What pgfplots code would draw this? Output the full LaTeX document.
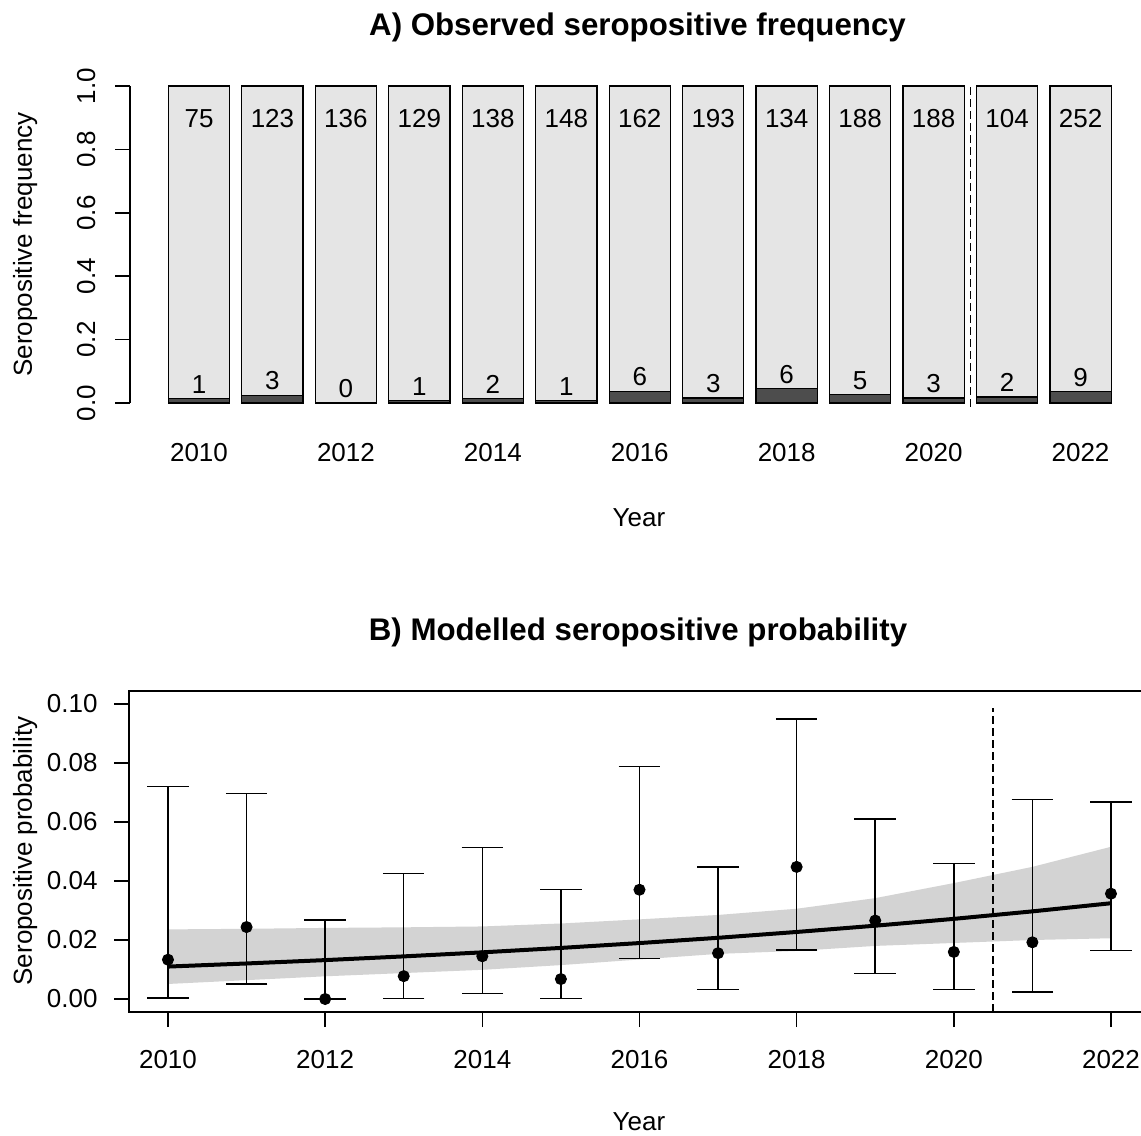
\documentclass[border=0pt]{standalone}
\usepackage{fontspec}
\setmainfont{Liberation Sans}
\usepackage{pgfplots}
\pgfplotsset{compat=1.18}
\usepackage{pgfplotstable}
\usepgfplotslibrary{fillbetween}
\definecolor{lightbar}{RGB}{229,229,229}
\definecolor{darkbar}{RGB}{77,77,77}
\definecolor{band}{RGB}{211,211,211}

% observed: year, n (total), positives, frequency, label heights
\pgfplotstableread{
year n pos freq tot lab ny
2010 75 1 0.01333 1 0.0583 0.896
2011 123 3 0.02439 1 0.0694 0.896
2012 136 0 0.00000 1 0.0450 0.896
2013 129 1 0.00775 1 0.0528 0.896
2014 138 2 0.01449 1 0.0595 0.896
2015 148 1 0.00676 1 0.0518 0.896
2016 162 6 0.03704 1 0.0820 0.896
2017 193 3 0.01554 1 0.0605 0.896
2018 134 6 0.04478 1 0.0898 0.896
2019 188 5 0.02660 1 0.0716 0.896
2020 188 3 0.01596 1 0.0610 0.896
2021 104 2 0.01923 1 0.0642 0.896
2022 252 9 0.03571 1 0.0807 0.896
}\topdata

% modelled: observed proportion with confidence limits
\pgfplotstableread{
year p lo hi
2010 0.01333 0.00034 0.0721
2011 0.02439 0.0051 0.0696
2012 0.00000 0.0000 0.0268
2013 0.00775 0.0002 0.0425
2014 0.01449 0.0018 0.0514
2015 0.00676 0.0002 0.0371
2016 0.03704 0.0137 0.0789
2017 0.01554 0.0032 0.0447
2018 0.04478 0.0166 0.0950
2019 0.02660 0.0087 0.0610
2020 0.01596 0.0033 0.0459
2021 0.01923 0.0023 0.0677
2022 0.03571 0.0164 0.0668
}\botdata

% fitted trend with band
\pgfplotstableread{
year fit up low
2010 0.01100 0.0236 0.0051
2011 0.01205 0.0238 0.0064
2012 0.01319 0.0241 0.0077
2013 0.01445 0.0243 0.0088
2014 0.01582 0.0246 0.0099
2015 0.01732 0.0256 0.0115
2016 0.01897 0.0270 0.0134
2017 0.02075 0.0285 0.0153
2018 0.02273 0.0306 0.0163
2019 0.02485 0.0342 0.0180
2020 0.02717 0.0393 0.0190
2021 0.02971 0.0448 0.0200
2022 0.03247 0.0516 0.0206
}\fitdata

\begin{document}
\fontsize{10.4pt}{12.5pt}\selectfont
\begin{tikzpicture}
% ---------------- Panel A ----------------
\begin{axis}[
  at={(52pt,287.73pt)}, anchor=south west,
  scale only axis, width=404.39pt, height=136.94pt,
  xmin=2009.0607, xmax=2022.823, ymin=-0.04, ymax=1.04,
  axis x line=none, axis y line*=left, y axis line style={draw=none},
  ytick={0,0.2,0.4,0.6,0.8,1}, yticklabels={0.0,0.2,0.4,0.6,0.8,1.0},
  tick align=outside, major tick length=6pt, tick style={black, line width=0.6pt},
  yticklabel style={rotate=90, anchor=base, inner sep=0pt},
  yticklabel shift=8pt,
  clip=false,
]
\addplot[ybar, bar width=0.833, bar shift=0pt, fill=lightbar, draw=black, line width=0.5pt]
  table[x=year, y=tot]{\topdata};
\addplot[ybar, bar width=0.833, bar shift=0pt, fill=darkbar, draw=black, line width=0.5pt]
  table[x=year, y=freq]{\topdata};
\addplot[only marks, mark=*, mark size=0pt, mark options={draw=none, fill=none},
  nodes near coords, point meta=explicit symbolic,
  nodes near coords style={anchor=center, inner sep=0pt, black}]
  table[x=year, y=ny, meta=n]{\topdata};
\addplot[only marks, mark=*, mark size=0pt, mark options={draw=none, fill=none},
  nodes near coords, point meta=explicit symbolic,
  nodes near coords style={anchor=center, inner sep=0pt, black}]
  table[x=year, y=lab, meta=pos]{\topdata};
\draw[line width=0.6pt] (axis cs:2009.0607,0) -- (axis cs:2009.0607,1);
\draw[line width=0.6pt, dash pattern=on 3.2pt off 1.6pt] (axis cs:2020.5,-0.012) -- (axis cs:2020.5,1);
\node[anchor=base] at (axis cs:2010,-0.1861) {2010};
\node[anchor=base] at (axis cs:2012,-0.1861) {2012};
\node[anchor=base] at (axis cs:2014,-0.1861) {2014};
\node[anchor=base] at (axis cs:2016,-0.1861) {2016};
\node[anchor=base] at (axis cs:2018,-0.1861) {2018};
\node[anchor=base] at (axis cs:2020,-0.1861) {2020};
\node[anchor=base] at (axis cs:2022,-0.1861) {2022};
\end{axis}

% ---------------- Panel B ----------------
\begin{axis}[
  at={(51.6pt,49.2pt)}, anchor=south west,
  scale only axis, width=407.87pt, height=128.38pt,
  xmin=2009.504, xmax=2022.48, ymin=-0.0044, ymax=0.1044,
  axis line style={line width=0.6pt},
  tick pos=left, tick align=outside, major tick length=6pt, tick style={black, line width=0.6pt},
  xtick={2010,2012,2014,2016,2018,2020,2022},
  xticklabels={2010,2012,2014,2016,2018,2020,2022},
  ytick={0,0.02,0.04,0.06,0.08,0.1},
  yticklabels={0.00,0.02,0.04,0.06,0.08,0.10},
  xticklabel style={anchor=north, inner sep=0pt}, xticklabel shift=9.2pt,
  yticklabel style={anchor=east, inner sep=0pt}, yticklabel shift=6.4pt,
  clip=false,
]
\addplot[name path=up, draw=none, forget plot] table[x=year, y=up]{\fitdata};
\addplot[name path=low, draw=none, forget plot] table[x=year, y=low]{\fitdata};
\addplot[fill=band, draw=none] fill between[of=up and low];
\addplot[black, line width=1.6pt] table[x=year, y=fit]{\fitdata};
\addplot[black, only marks, mark=*, mark size=2.2pt,
  error bars/.cd, y dir=both, y explicit,
  error bar style={line width=0.6pt, black, solid},
  error mark options={rotate=90, line width=0.6pt, mark size=8.3pt, black, solid}]
  table[x=year, y=p, y error plus expr=\thisrow{hi}-\thisrow{p}, y error minus expr=\thisrow{p}-\thisrow{lo}]{\botdata};
\draw[line width=0.6pt, dash pattern=on 3.2pt off 1.6pt] (axis cs:2020.5,-0.0044) -- (axis cs:2020.5,0.0985);
\end{axis}

% titles and axis labels
\node[anchor=base, font=\bfseries\fontsize{12.5pt}{15pt}\selectfont] at (255pt,439.8pt) {A) Observed seropositive frequency};
\node[anchor=base, font=\bfseries\fontsize{12.5pt}{15pt}\selectfont] at (255.2pt,197.7pt) {B) Modelled seropositive probability};
\node[anchor=base] at (255.6pt,243.2pt) {Year};
\node[anchor=base] at (255.6pt,2pt) {Year};
\node[anchor=base, rotate=90] at (12.8pt,356.2pt) {Seropositive frequency};
\node[anchor=base, rotate=90] at (12.8pt,113.6pt) {Seropositive probability};

\pgfresetboundingbox
\useasboundingbox (0,0) rectangle (456.4pt,454pt);
\end{tikzpicture}
\end{document}
